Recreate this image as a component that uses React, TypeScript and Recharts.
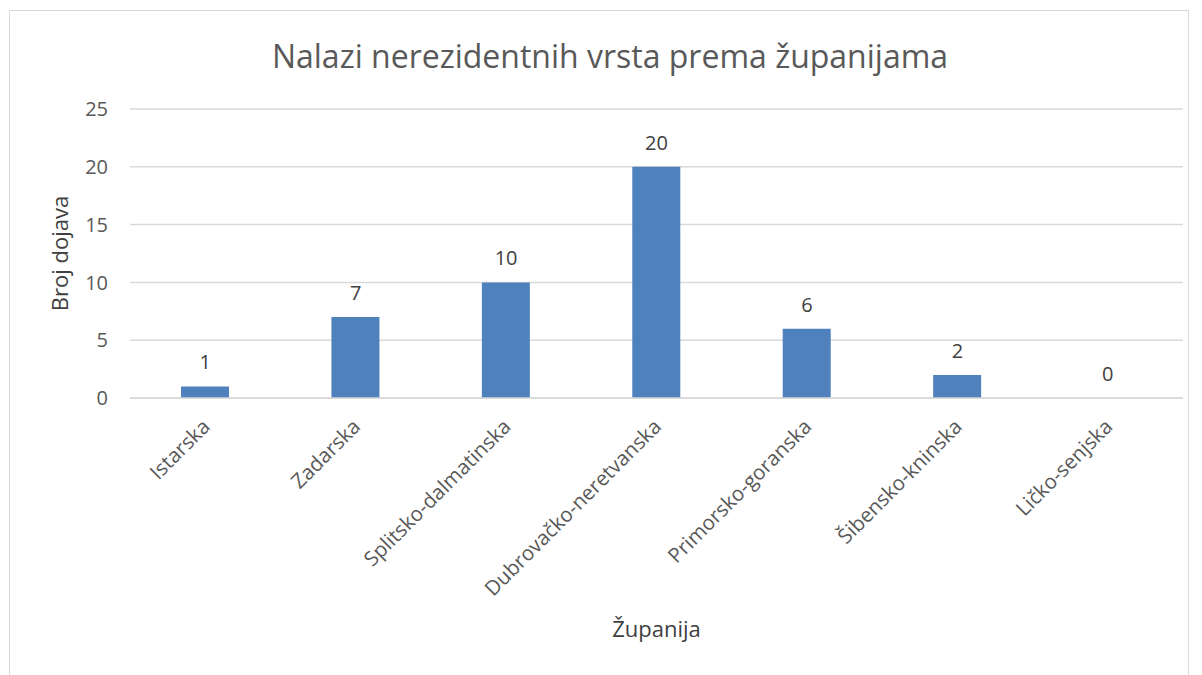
import React from "react";
import { ComposedChart, Bar, Line, XAxis, YAxis, CartesianGrid, LabelList, Label } from "recharts";

const categories = [
  "Istarska",
  "Zadarska",
  "Splitsko-dalmatinska",
  "Dubrovačko-neretvanska",
  "Primorsko-goranska",
  "Šibensko-kninska",
  "Ličko-senjska",
];
const values = [1, 7, 10, 20, 6, 2, 0];
const yTicks = [0, 5, 10, 15, 20, 25];

const data = categories.map((name, i) => ({ name, value: values[i] }));

const FONT = "'Open Sans', 'Noto Sans', sans-serif";

const AngledTick = (props: any) => {
  const { x, y, payload } = props;
  return (
    <g transform={`translate(${x + 6},${y + 22})`}>
      <text
        x={0}
        y={0}
        textAnchor="end"
        transform="rotate(-45)"
        fill="#595959"
        fontSize={20.5}
        fontFamily={FONT}
      >
        {payload.value}
      </text>
    </g>
  );
};

export default function App() {
  return (
    <div style={{ position: "absolute", left: 0, top: 0, width: 1202, height: 675, background: "#fff", overflow: "hidden" }}>
      <div
        style={{
          position: "absolute",
          left: 9,
          top: 10,
          width: 1180,
          height: 700,
          border: "1px solid #d9d9d9",
          boxSizing: "border-box",
        }}
      />
      <div
        style={{
          position: "absolute",
          left: 0,
          top: 34,
          width: 1220,
          textAlign: "center",
          fontFamily: FONT,
          fontSize: 32,
          color: "#595959",
          lineHeight: "44px",
        }}
      >
        Nalazi nerezidentnih vrsta prema županijama
      </div>
      <div style={{ position: "absolute", left: 0, top: 0 }}>
        <ComposedChart
          width={1202}
          height={675}
          data={data}
          margin={{ top: 109, right: 19, left: 70, bottom: 17 }}
        >
          <CartesianGrid vertical={false} stroke="#d9d9d9" strokeWidth={1.5} />
          <XAxis
            dataKey="name"
            height={260}
            interval={0}
            tickLine={false}
            axisLine={{ stroke: "#d9d9d9", strokeWidth: 1.5 }}
            tick={<AngledTick />}
          >
            <Label
              value="Županija"
              position="insideBottom"
              offset={21}
              fill="#404040"
              fontSize={22}
              fontFamily={FONT}
            />
          </XAxis>
          <YAxis
            width={60}
            domain={[0, 25]}
            ticks={yTicks}
            tickLine={false}
            axisLine={false}
            tickSize={0}
            tickMargin={22}
            tick={{ fill: "#595959", fontSize: 20, fontFamily: FONT }}
          >
            <Label
              value="Broj dojava"
              angle={-90}
              position="insideLeft"
              offset={-10}
              fill="#404040"
              fontSize={22}
              fontFamily={FONT}
              style={{ textAnchor: "middle" }}
            />
          </YAxis>
          <Bar dataKey="value" fill="#4f81bd" barSize={48} isAnimationActive={false} />
          <Line
            dataKey="value"
            stroke="none"
            dot={false}
            activeDot={false}
            legendType="none"
            isAnimationActive={false}
          >
            <LabelList
              dataKey="value"
              position="top"
              offset={17}
              fill="#404040"
              fontSize={20}
              fontFamily={FONT}
            />
          </Line>
        </ComposedChart>
      </div>
    </div>
  );
}
